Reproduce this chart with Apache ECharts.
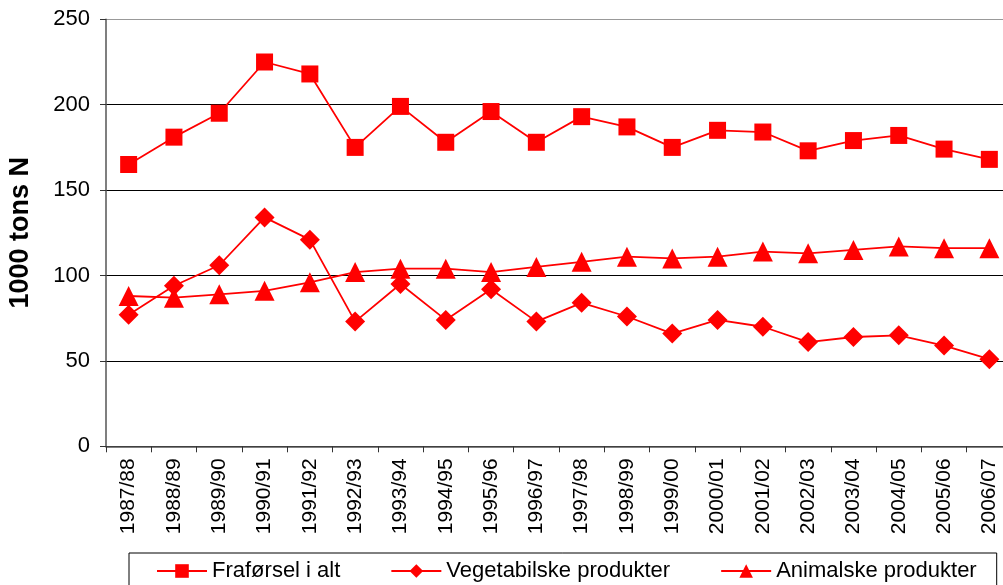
<!DOCTYPE html>
<html>
<head>
<meta charset="utf-8">
<script src="https://cdn.jsdelivr.net/npm/echarts@6/dist/echarts.min.js"></script>
<style>
html,body{margin:0;padding:0;background:#fff;}
#c{width:1003px;height:585px;}
</style>
</head>
<body>
<div id="c"></div>
<script>
const categories = ["1987/88","1988/89","1989/90","1990/91","1991/92","1992/93","1993/94","1994/95","1995/96","1996/97","1997/98","1998/99","1999/00","2000/01","2001/02","2002/03","2003/04","2004/05","2005/06","2006/07"];
const frafoersel = [165,181,195,225,218,175,199,178,196,178,193,187,175,185,184,173,179,182,174,168];
const vegetabilske = [77,94,106,134,121,73,95,74,92,73,84,76,66,74,70,61,64,65,59,51];
const animalske = [88,87,89,91,96,102,104,104,102,105,108,111,110,111,114,113,115,117,116,116];
const yTicks = {min:0, max:250, interval:50};

const font = 'Arial, "Liberation Sans", sans-serif';
const chart = echarts.init(document.getElementById('c'), null, {renderer:'canvas'});
chart.setOption({
  animation:false,
  backgroundColor:'#fff',
  grid:{left:106, top:19.3, width:906, height:427, containLabel:false, outerBoundsMode:'none'},
  xAxis:{
    type:'category', data:categories, boundaryGap:true,
    axisLine:{lineStyle:{color:'#555', width:1.5}},
    axisTick:{show:true, length:6, lineStyle:{color:'#333'}},
    axisLabel:{rotate:90, margin:12, color:'#000', fontSize:21, fontFamily:font, interval:0}
  },
  yAxis:{
    type:'value', min:yTicks.min, max:yTicks.max, interval:yTicks.interval,
    name:'1000 tons N', nameLocation:'middle', nameGap:72,
    nameTextStyle:{fontSize:27, fontWeight:'bold', color:'#000', fontFamily:font},
    axisLine:{show:true, lineStyle:{color:'#555', width:1.5}},
    axisTick:{show:true, length:6, lineStyle:{color:'#333'}},
    axisLabel:{margin:16, color:'#000', fontSize:22, fontFamily:font},
    splitLine:{show:true, lineStyle:{color:['#000','#000','#000','#000','#000','#999'], width:1}}
  },
  legend:{
    left:129, top:553,
    padding:[7,20,16,27],
    itemGap:50, itemWidth:50, itemHeight:17,
    borderColor:'#000', borderWidth:1,
    textStyle:{fontSize:22, color:'#000', fontFamily:font},
    data:['Fraførsel i alt','Vegetabilske produkter','Animalske produkter']
  },
  series:[
    {name:'Fraførsel i alt', type:'line', data:frafoersel, symbol:'rect', symbolSize:17,
     lineStyle:{color:'#ff0000', width:1.8}, itemStyle:{color:'#ff0000'}},
    {name:'Vegetabilske produkter', type:'line', data:vegetabilske, symbol:'diamond', symbolSize:20,
     lineStyle:{color:'#ff0000', width:1.8}, itemStyle:{color:'#ff0000'}},
    {name:'Animalske produkter', type:'line', data:animalske, symbol:'triangle', symbolSize:20,
     lineStyle:{color:'#ff0000', width:1.8}, itemStyle:{color:'#ff0000'}}
  ]
});
</script>
</body>
</html>
